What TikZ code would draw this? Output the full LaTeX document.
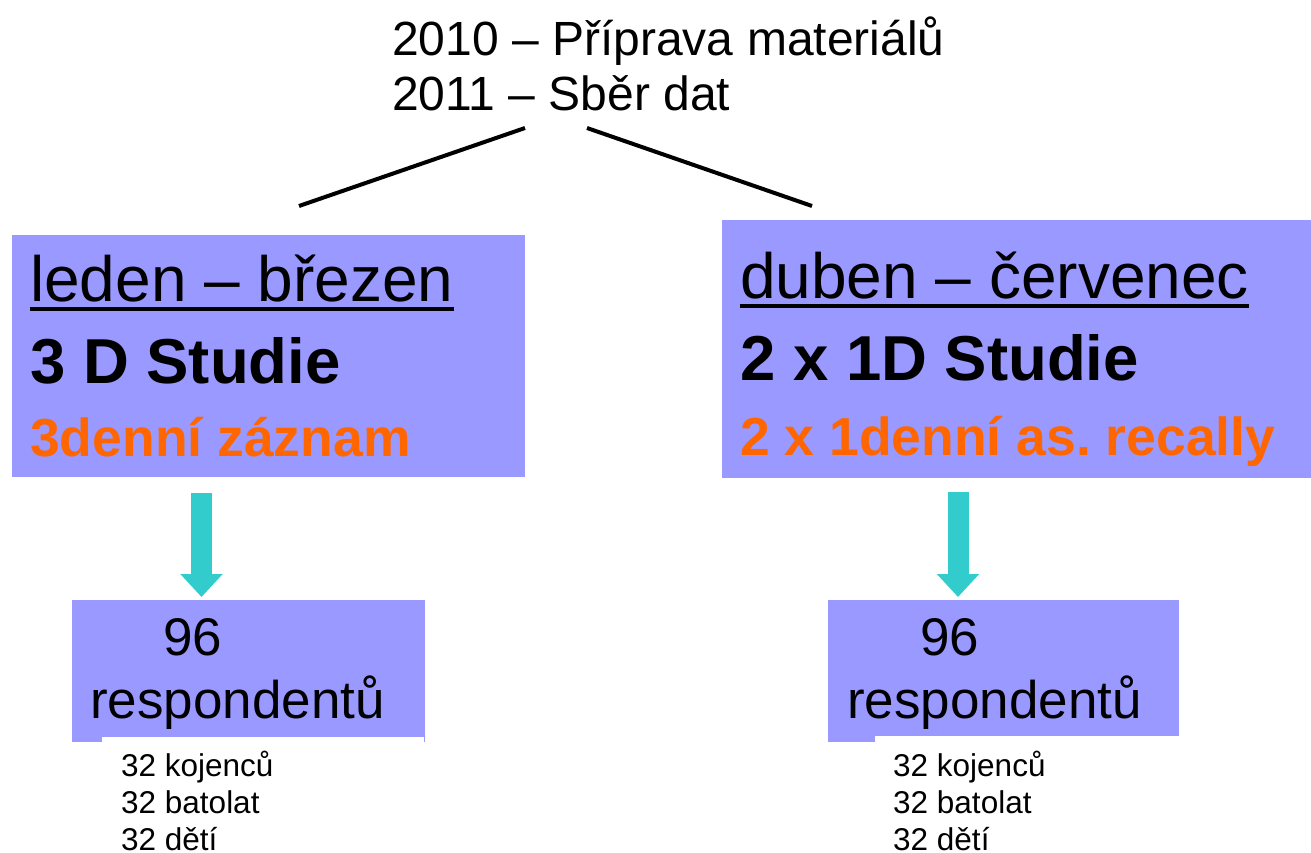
\documentclass[tikz,border=0pt]{standalone}
\usepackage{fontspec}
\setmainfont{Liberation Sans}
\usetikzlibrary{arrows.meta}
\definecolor{lilac}{RGB}{153, 153, 255}
\definecolor{aqua}{RGB}{51, 204, 204}
\definecolor{orng}{RGB}{255, 102, 0}
\frenchspacing

\begin{document}
\begin{tikzpicture}[
   x=1pt, y=-1pt,
   periodbox/.style={rectangle, fill=lilac, draw=none, anchor=north west,
                     inner sep=0},
   txt/.style={anchor=base west, inner sep=0, text=black},
   headtxt/.style={txt, font=\fontsize{48}{48}\selectfont},
   titletxt/.style={txt, font=\fontsize{64}{64}\selectfont},
   studytxt/.style={txt, font=\fontsize{63.5}{63.5}\selectfont\bfseries},
   methtxt/.style={txt, font=\fontsize{53.5}{53.5}\selectfont\bfseries, text=orng},
   numtxt/.style={txt, font=\fontsize{53}{53}\selectfont},
   listtxt/.style={txt, font=\fontsize{31.5}{31.5}\selectfont},
   link/.style={line width=4, black},
   uline/.style={line width=4, black},
   flow/.style={-{Triangle[width=41pt, length=23pt]}, line width=21, color=aqua}
  ]

  \useasboundingbox (0, 0) rectangle (1311, 853);

  % Plan
  \node (plan1) at (392, 56) [headtxt] {2010 – Příprava materiálů};
  \node (plan2) at (392, 111) [headtxt] {2011 – Sběr dat};

  % Periods
  \node (lbox) at (12, 235) [periodbox, minimum width=513, minimum height=242] {};
  \node (rbox) at (722, 220) [periodbox, minimum width=589, minimum height=258] {};

  \node (ltitle) at (30, 301) [titletxt] {leden – březen};
  \node (lstudy) at (30, 383) [studytxt] {3 D Studie};
  \node (lmeth) at (30, 456) [methtxt] {3denní záznam};

  \node (rtitle) at (740, 298) [titletxt] {duben – červenec};
  \node (rstudy) at (740, 380) [studytxt] {2 x 1D Studie};
  \node (rmeth) at (740, 455) [methtxt] {2 x 1denní as. recally};

  \foreach \T in {ltitle, rtitle} {
    \draw[uline] ([yshift=-8pt]\T.base west) -- ([yshift=-8pt]\T.base east);
  }

  % Links from the plan
  \coordinate (l1) at (525, 128);
  \coordinate (l2) at (299, 206);
  \coordinate (r1) at (587, 128);
  \coordinate (r2) at (812, 206);

  \foreach \B/\E in {l1/l2, r1/r2} {
    \draw[link] (\B) -- (\E);
  }

  % Respondents
  \node (lres) at (72, 600) [periodbox, minimum width=353, minimum height=142] {};
  \node (rres) at (828, 600) [periodbox, minimum width=351, minimum height=142] {};
  \fill[white] (102, 737) rectangle (424, 745);
  \fill[white] (875, 736) rectangle (1180, 745);

  \node (lnum) at (163, 655) [numtxt] {96};
  \node (lwho) at (90, 718) [numtxt] {respondentů};
  \node (rnum) at (920, 655) [numtxt] {96};
  \node (rwho) at (847, 718) [numtxt] {respondentů};

  \coordinate (la) at (201.5, 0);
  \coordinate (ra) at (958, 0);

  \draw[flow, shorten <=16pt, shorten >=3pt] (lbox.south -| la) -- (lres.north -| la);
  \draw[flow, shorten <=14pt, shorten >=3pt] (rbox.south -| ra) -- (rres.north -| ra);

  \foreach \t [count=\i] in {32 kojenců, 32 batolat, 32 dětí} {
    \node (ll\i) at (121, 739 + 37 * \i) [listtxt] {\t};
    \node (rl\i) at (893, 739 + 37 * \i) [listtxt] {\t};
  }

\end{tikzpicture}
\end{document}
